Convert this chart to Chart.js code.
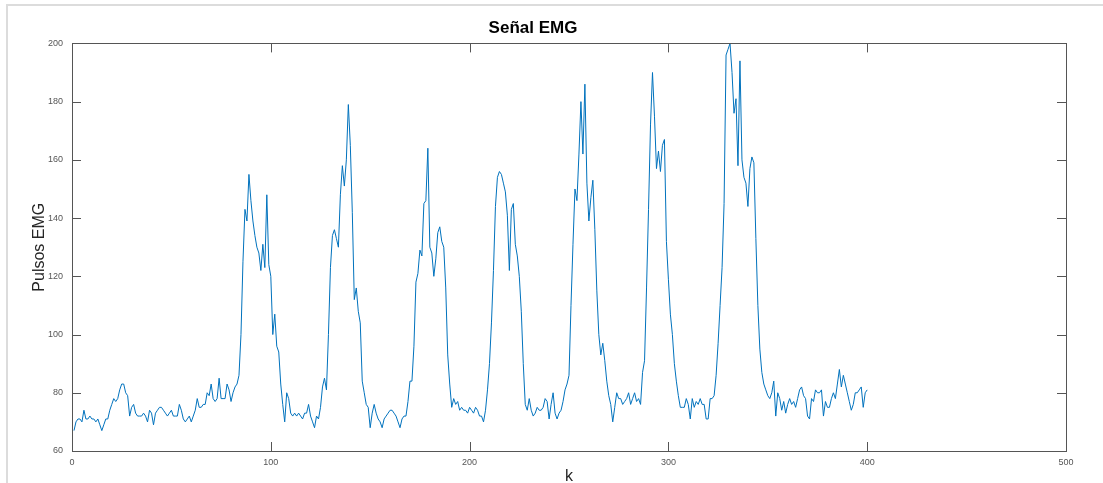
<!DOCTYPE html>
<html lang="es">
<head>
<meta charset="utf-8">
<title>Señal EMG</title>
<script src="https://cdn.jsdelivr.net/npm/chart.js@4.4.1/dist/chart.umd.min.js"></script>
<style>
  html, body { margin: 0; padding: 0; background: #fff; }
  #marco { position: relative; width: 1103px; height: 483px; overflow: hidden; }
  #marco canvas { position: absolute; left: 0; top: 0; }
  /* borde gris claro de la ventana (arriba e izquierda) */
  .borde-sup { position: absolute; left: 6px; top: 4px; width: 1097px; height: 2px; background: #dcdcdc; }
  .borde-izq { position: absolute; left: 6px; top: 4px; width: 2px; height: 479px; background: #dcdcdc; }
</style>
</head>
<body>
<div id="marco">
  <canvas id="emgChart" width="1103" height="483"></canvas>
  <div class="borde-sup"></div>
  <div class="borde-izq"></div>
</div>
<script>
// Ticks de los ejes
const kTicks = [0, 100, 200, 300, 400, 500];
const yTicks = [60, 80, 100, 120, 140, 160, 180, 200];

// Pulsos EMG, k = 1..400
const pulsosEMG = [
  67, 70, 71, 71, 70, 74, 71, 71, 72, 71, 71, 70, 71, 69, 67, 69, 71, 71, 74, 76, 78, 77, 78, 81, 83,
  83, 80, 79, 72, 75, 76, 73, 72, 72, 72, 73, 72, 70, 74, 73, 69, 73, 74, 75, 75, 74, 73, 72, 73, 74,
  72, 72, 72, 76, 74, 71, 70, 71, 72, 70, 72, 74, 78, 75, 75, 76, 76, 80, 79, 83, 78, 77, 78, 85, 78,
  78, 78, 83, 81, 77, 80, 82, 83, 86, 100, 125, 143, 139, 155, 146, 139, 134, 130, 128, 122, 131, 123, 148, 124, 120,
  100, 107, 96, 94, 83, 76, 70, 80, 78, 73, 72, 73, 72, 73, 72, 71, 73, 73, 76, 72, 70, 68, 72, 71, 75,
  82, 85, 81, 100, 123, 134, 136, 133, 130, 148, 158, 151, 160, 179, 165, 142, 112, 116, 108, 104, 84, 80, 76, 75, 68,
  73, 76, 73, 71, 70, 68, 71, 72, 73, 74, 74, 73, 72, 70, 68, 71, 72, 72, 77, 84, 84, 96, 118, 121, 129,
  127, 145, 146, 164, 130, 128, 120, 126, 135, 137, 132, 130, 116, 93, 83, 75, 78, 76, 77, 74, 75, 74, 74, 73, 75,
  74, 73, 75, 74, 72, 72, 70, 74, 81, 90, 104, 122, 144, 154, 156, 155, 152, 149, 141, 122, 143, 145, 131, 127, 120,
  108, 90, 76, 74, 78, 74, 72, 73, 75, 74, 74, 75, 78, 77, 71, 76, 80, 73, 71, 73, 74, 77, 81, 83, 86,
  110, 131, 150, 146, 162, 180, 162, 186, 152, 139, 147, 153, 136, 115, 100, 93, 97, 91, 84, 79, 76, 70, 75, 80, 78,
  78, 76, 77, 78, 80, 76, 78, 80, 77, 78, 76, 87, 91, 116, 143, 172, 190, 175, 157, 163, 156, 165, 167, 132, 119,
  107, 100, 90, 84, 79, 75, 75, 75, 78, 76, 71, 78, 75, 77, 76, 78, 76, 76, 71, 71, 78, 78, 79, 86, 97,
  110, 123, 145, 196, 198, 200, 190, 176, 181, 158, 194, 160, 154, 152, 144, 157, 161, 159, 133, 110, 95, 87, 83, 81, 79,
  78, 80, 84, 72, 80, 78, 74, 77, 73, 76, 78, 76, 77, 75, 78, 81, 82, 79, 78, 72, 71, 78, 77, 81, 80,
  80, 81, 72, 77, 75, 75, 78, 80, 78, 83, 88, 82, 86, 83, 80, 77, 74, 76, 80, 80, 81, 82, 75, 80, 81
];

const puntos = pulsosEMG.map((v, i) => ({ x: i + 1, y: v }));

const fuenteTicks = { family: 'Liberation Sans, Arial, sans-serif', size: 9 };
const colorEjes = '#555';

// Caja completa + ticks hacia adentro, estilo Octave/MATLAB
const cajaConTicks = {
  id: 'cajaConTicks',
  afterDatasetsDraw(chart) {
    const { ctx, chartArea: a, scales: { x, y } } = chart;
    const largo = 9;
    ctx.save();
    ctx.strokeStyle = colorEjes;
    ctx.lineWidth = 1;
    ctx.beginPath();
    kTicks.forEach(v => {
      const px = Math.round(x.getPixelForValue(v)) + 0.5;
      ctx.moveTo(px, a.bottom); ctx.lineTo(px, a.bottom - largo);
      ctx.moveTo(px, a.top); ctx.lineTo(px, a.top + largo);
    });
    yTicks.forEach(v => {
      const py = Math.round(y.getPixelForValue(v)) + 0.5;
      ctx.moveTo(a.left, py); ctx.lineTo(a.left + largo, py);
      ctx.moveTo(a.right, py); ctx.lineTo(a.right - largo, py);
    });
    ctx.stroke();
    ctx.strokeRect(Math.round(a.left) + 0.5, Math.round(a.top) + 0.5,
      Math.round(a.right - a.left), Math.round(a.bottom - a.top));
    ctx.restore();
  }
};

new Chart(document.getElementById('emgChart'), {
  type: 'line',
  data: {
    datasets: [{
      data: puntos,
      borderColor: '#0072bd',
      borderWidth: 1,
      pointRadius: 0,
      tension: 0,
      fill: false
    }]
  },
  options: {
    responsive: false,
    animation: false,
    layout: { padding: { left: 0, right: 37, top: 0, bottom: 0 } },
    plugins: {
      legend: { display: false },
      tooltip: { enabled: false },
      title: {
        display: true,
        text: 'Señal EMG',
        color: '#000',
        font: { family: 'Liberation Sans, Arial, sans-serif', size: 17, weight: 'bold', lineHeight: 1.2 },
        padding: { top: 18, bottom: 5 }
      }
    },
    scales: {
      x: {
        type: 'linear',
        min: 0,
        max: 500,
        afterBuildTicks: s => { s.ticks = kTicks.map(v => ({ value: v })); },
        afterFit: s => { s.height = 32; },
        grid: { display: false, drawTicks: false },
        border: { display: false },
        ticks: { font: fuenteTicks, color: colorEjes, padding: 6, maxRotation: 0 },
        title: {
          display: true,
          text: 'k',
          color: '#262626',
          font: { family: 'Liberation Sans, Arial, sans-serif', size: 16, lineHeight: 0.75 },
          padding: { top: 0, bottom: 0 }
        }
      },
      y: {
        min: 60,
        max: 200,
        afterBuildTicks: s => { s.ticks = yTicks.map(v => ({ value: v })); },
        afterFit: s => { s.width = 72; },
        grid: { display: false, drawTicks: false },
        border: { display: false },
        ticks: { font: fuenteTicks, color: colorEjes, padding: 9 },
        title: {
          display: true,
          text: 'Pulsos EMG',
          color: '#262626',
          font: { family: 'Liberation Sans, Arial, sans-serif', size: 16, lineHeight: 1 },
          padding: { top: 32, bottom: 0 }
        }
      }
    }
  },
  plugins: [cajaConTicks]
});
</script>
</body>
</html>
